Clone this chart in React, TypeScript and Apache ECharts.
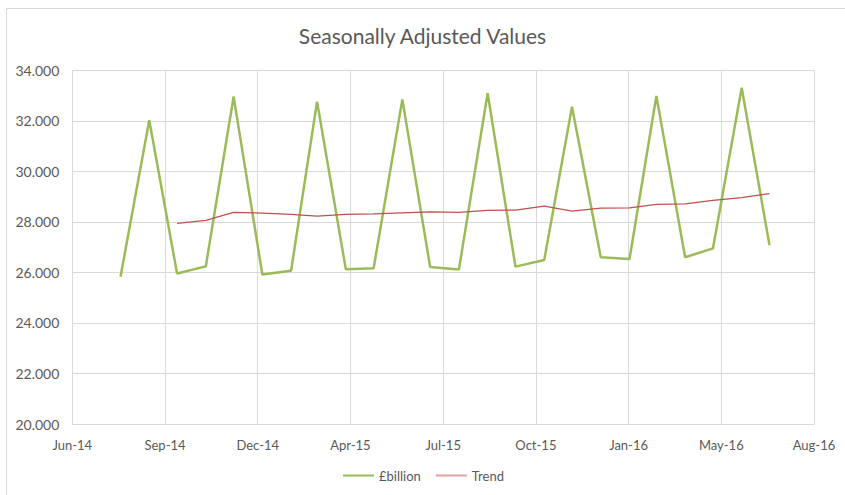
import React, { useEffect, useRef } from "react";
import * as echarts from "echarts";

const monthDates: string[] = [
  "2014-08-01", "2014-09-01", "2014-10-01", "2014-11-01", "2014-12-01",
  "2015-01-01", "2015-02-01", "2015-03-01", "2015-04-01", "2015-05-01", "2015-06-01",
  "2015-07-01", "2015-08-01", "2015-09-01", "2015-10-01", "2015-11-01", "2015-12-01",
  "2016-01-01", "2016-02-01", "2016-03-01", "2016-04-01", "2016-05-01", "2016-06-01",
  "2016-07-01",
];

const billionValues: number[] = [
  25.83, 32.02, 25.96, 26.24, 32.96, 25.92, 26.07, 32.76, 26.13, 26.16, 32.85, 26.21,
  26.12, 33.09, 26.23, 26.49, 32.56, 26.6, 26.53, 32.98, 26.6, 26.95, 33.31, 27.08,
];

const trendValues: (number | null)[] = [
  null, null, 27.94, 28.06, 28.38, 28.35, 28.3, 28.23, 28.3, 28.32, 28.36, 28.4,
  28.38, 28.46, 28.47, 28.62, 28.43, 28.54, 28.55, 28.69, 28.71, 28.85, 28.96, 29.12,
];

const seriesNames: string[] = ["£billion", "Trend"];
const monthNames: string[] = ["Jan", "Feb", "Mar", "Apr", "May", "Jun", "Jul", "Aug", "Sep", "Oct", "Nov", "Dec"];

// Excel-style date serials for the x axis
const xMinSerial = 41800;
const xMaxSerial = 42600;
const xStep = 100;
const yMin = 20;
const yMax = 34;
const yStep = 2;

const EPOCH = Date.UTC(1899, 11, 30);
const DAY = 86400000;

function toSerial(s: string): number {
  const [y, m, d] = s.split("-").map(Number);
  return Math.round((Date.UTC(y, m - 1, d) - EPOCH) / DAY);
}

function serialLabel(v: number): string {
  const d = new Date(EPOCH + v * DAY);
  return `${monthNames[d.getUTCMonth()]}-${String(d.getUTCFullYear()).slice(2)}`;
}

export default function App() {
  const ref = useRef<HTMLDivElement>(null);

  useEffect(() => {
    if (!ref.current) return;
    const chart = echarts.init(ref.current, undefined, { renderer: "svg" });
    const font = "Lato, 'Open Sans', sans-serif";
    const xs = monthDates.map(toSerial);
    const billionData = xs.map((x, i) => [x, billionValues[i]]);
    const trendData = xs
      .map((x, i) => [x, trendValues[i]])
      .filter((p) => p[1] !== null);

    chart.setOption({
      animation: false,
      backgroundColor: "#ffffff",
      textStyle: { fontFamily: font },
      title: {
        text: "Seasonally Adjusted Values",
        left: "center",
        top: 20,
        textStyle: { fontFamily: font, fontSize: 21, fontWeight: "normal", color: "#595959" },
      },
      graphic: [
        {
          type: "rect",
          shape: { x: 6.5, y: 8.5, width: 900, height: 600 },
          style: { fill: "none", stroke: "#d9d9d9", lineWidth: 1 },
          silent: true,
          z: -1,
        },
      ],
      legend: {
        data: [
          { name: seriesNames[0], icon: "rect" },
          { name: seriesNames[1], icon: "rect" },
        ],
        left: 343,
        top: 469,
        padding: 0,
        itemWidth: 31,
        itemHeight: 2,
        itemGap: 15,
        textStyle: { fontFamily: font, fontSize: 13, color: "#595959" },
      },
      grid: {
        left: 72.3,
        right: 31,
        top: 70.3,
        bottom: 71,
        containLabel: false,
        outerBoundsMode: "none",
      },
      xAxis: {
        type: "value",
        min: xMinSerial,
        max: xMaxSerial,
        interval: xStep,
        axisLine: { show: true, lineStyle: { color: "#d9d9d9", width: 1 } },
        axisTick: { show: false },
        splitLine: { show: true, lineStyle: { color: "#d9d9d9", width: 1 } },
        axisLabel: {
          formatter: (v: number) => serialLabel(v),
          color: "#595959",
          fontFamily: font,
          fontSize: 13,
          margin: 14,
          showMinLabel: true,
          showMaxLabel: true,
        },
      },
      yAxis: {
        type: "value",
        min: yMin,
        max: yMax,
        interval: yStep,
        axisLine: { show: false },
        axisTick: { show: false },
        splitLine: { show: true, lineStyle: { color: "#d9d9d9", width: 1 } },
        axisLabel: {
          formatter: (v: number) => v.toFixed(3),
          color: "#595959",
          fontFamily: font,
          fontSize: 14,
          margin: 13,
        },
      },
      series: [
        {
          name: seriesNames[0],
          type: "line",
          data: billionData,
          symbol: "none",
          lineStyle: { color: "#9bbb59", width: 2.5 },
          itemStyle: { color: "#9bbb59" },
          z: 2,
        },
        {
          name: seriesNames[1],
          type: "line",
          data: trendData,
          symbol: "none",
          lineStyle: { color: "#c0504d", width: 1.25 },
          itemStyle: { color: "#e0a0a0" },
          z: 3,
        },
      ],
    });
    return () => chart.dispose();
  }, []);

  return (
    <div
      ref={ref}
      style={{ position: "absolute", left: 0, top: 0, width: 845, height: 495 }}
    />
  );
}
